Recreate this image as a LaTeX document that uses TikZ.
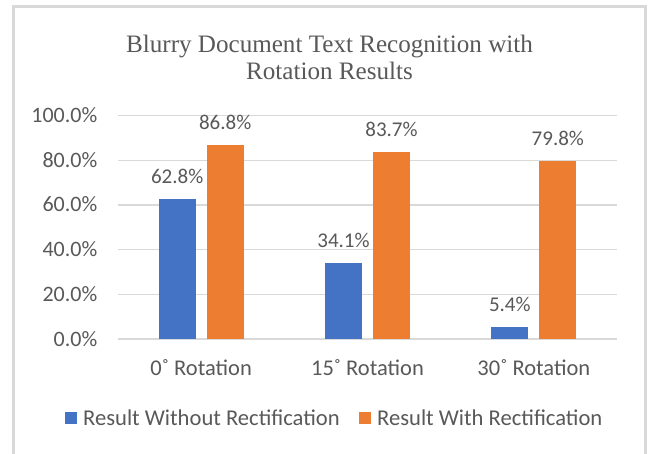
\documentclass[tikz,border=0pt]{standalone}
\usepackage{fontspec}
\setmainfont{Carlito}
\newfontfamily\titlefont{Liberation Serif}
\definecolor{barblue}{HTML}{4472C4}
\definecolor{barorange}{HTML}{ED7D31}
\definecolor{gridgray}{HTML}{D9D9D9}
\definecolor{txtgray}{HTML}{595959}
\begin{document}
\begin{tikzpicture}[x=1pt,y=-1pt,
  gridline/.style={draw=gridgray,line width=1.4pt},
  frameline/.style={draw=gridgray,line width=3pt},
  bluebar/.style={fill=barblue,draw=none},
  orangebar/.style={fill=barorange,draw=none},
  lbl/.style={text=txtgray,font=\fontsize{21}{24}\selectfont,inner sep=0pt},
  ticklbl/.style={lbl,anchor=base east,font=\fontsize{22}{24}\selectfont},
  datalbl/.style={lbl,anchor=base},
  catlbl/.style={lbl,anchor=base,font=\fontsize{22.5}{24}\selectfont},
  leglbl/.style={lbl,anchor=base west,font=\fontsize{22.6}{24}\selectfont},
  titlelbl/.style={text=txtgray,font=\titlefont\fontsize{25.1}{27}\selectfont,inner sep=0pt,anchor=base}]
\useasboundingbox (0,0) rectangle (650,453);
\fill[white] (0,0) rectangle (650,453);
\begin{scope}
\clip (0,0) rectangle (650,453);
\draw[frameline] (13.5,6.5) rectangle (645,470);
\end{scope}
% title
\node[titlelbl] (t1) at (329.5,52) {Blurry Document Text Recognition with};
\node[titlelbl] (t2) at (329.5,79) {Rotation Results};
% gridlines and tick labels
\foreach \k/\t in {0/0.0\%,1/20.0\%,2/40.0\%,3/60.0\%,4/80.0\%,5/100.0\%}{
  \pgfmathsetmacro{\gy}{339-\k*44.7}
  \draw[gridline] (118,\gy) -- (617,\gy);
  \node[ticklbl] (tick\k) at (97.5,\gy+7) {\t};
}
% bars
\foreach \i/\b/\o/\bl/\ol/\cat in {0/62.8/86.8/62.8\%/86.8\%/0˚ Rotation,1/34.1/83.7/34.1\%/83.7\%/15˚ Rotation,2/5.4/79.8/5.4\%/79.8\%/30˚ Rotation}{
  \pgfmathsetmacro{\c}{118+(\i+0.5)*166.33}
  \pgfmathsetmacro{\bt}{339-\b*2.235}
  \pgfmathsetmacro{\ot}{339-\o*2.235}
  \path[bluebar] (\c-42.5,339) rectangle (\c-5.5,\bt);
  \path[orangebar] (\c+5.5,339) rectangle (\c+42.5,\ot);
  \node[datalbl] (bl\i) at (\c-24,\bt-15.5) {\bl};
  \node[datalbl] (ol\i) at (\c+24,\ot-15.5) {\ol};
  \node[catlbl] (cat\i) at (\c,375) {\cat};
}
% legend
\path[bluebar] (65,412) rectangle (77,424);
\node[leglbl] (leg1) at (83,425) {Result Without Rectification};
\path[orangebar] (358.5,412) rectangle (370.5,424);
\node[leglbl] (leg2) at (377,425) {Result With Rectification};
\end{tikzpicture}
\end{document}
